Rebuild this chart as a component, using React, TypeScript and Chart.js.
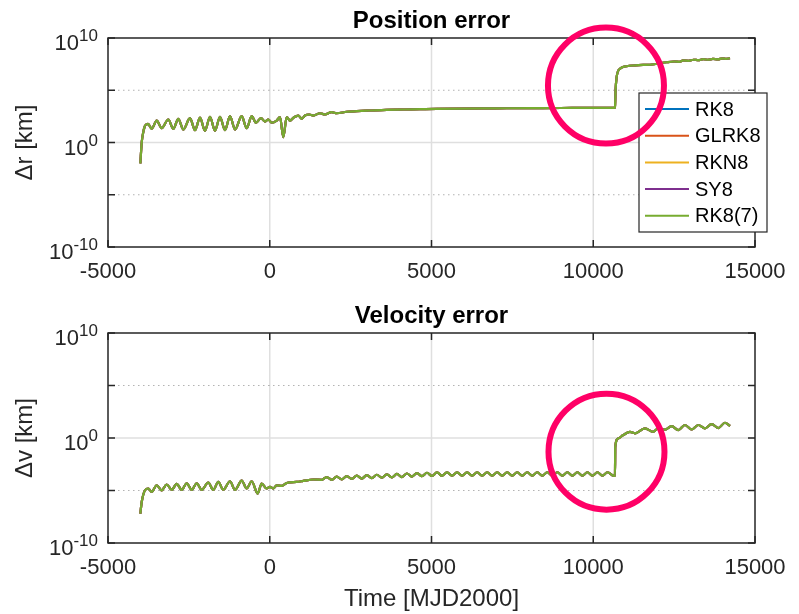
import React, { useEffect, useRef } from "react";
import { Chart, registerables } from "chart.js";

Chart.register(...registerables);

// ---------- data ----------
const SERIES_LABELS = ["RK8", "GLRK8", "RKN8", "SY8", "RK8(7)"];
const SERIES_COLORS = ["#0072BD", "#D95319", "#EDB120", "#7E2F8E", "#77AC30"];
const X_TICKS = [-5000, 0, 5000, 10000, 15000];
const Y_TICK_EXPONENTS = [-10, -5, 0, 5, 10];
const Y_LABEL_EXPONENTS = [-10, 0, 10];

// [time (MJD2000), log10 of error]
const POSITION_ERROR = [
  [-4000, -2.0], [-3958, 0.0], [-3909, 1.0], [-3856, 1.6], [-3764, 1.79], [-3649, 1.31],
  [-3495, 2.1], [-3340, 1.37], [-3136, 2.2], [-2982, 1.31], [-2827, 2.27], [-2672, 1.24],
  [-2465, 2.33], [-2311, 1.18], [-2156, 2.39], [-2002, 1.12], [-1847, 2.46], [-1693, 1.12],
  [-1538, 2.46], [-1384, 1.18], [-1229, 2.52], [-1074, 1.24], [-867, 2.52], [-713, 1.37],
  [-558, 2.52], [-425, 1.89], [-271, 2.33], [-147, 2.0], [-45, 2.2], [60, 1.89],
  [215, 2.1], [317, 2.42], [419, 0.51], [524, 2.42], [626, 2.1], [749, 2.42],
  [882, 2.58], [987, 2.27], [1089, 2.58], [1222, 2.68], [1346, 2.58], [1553, 2.8],
  [1707, 2.68], [1915, 2.9], [2069, 2.8], [2378, 2.94], [2687, 3.0], [3098, 3.06],
  [3615, 3.13], [4128, 3.16], [4644, 3.19], [5160, 3.22], [6000, 3.25], [7000, 3.27],
  [8000, 3.29], [9000, 3.3], [10000, 3.31], [10650, 3.32], [10671, 3.35], [10690, 5.0],
  [10723, 6.25], [10826, 7.05], [11033, 7.3], [11300, 7.38], [11550, 7.42], [11753, 7.44],
  [12000, 7.55], [12269, 7.68], [12500, 7.75], [12650, 7.72], [12783, 7.85], [12950, 7.82],
  [13100, 7.92], [13250, 7.88], [13400, 7.97], [13550, 7.92], [13700, 8.0], [13850, 7.95],
  [14000, 8.05], [14100, 8.0], [14227, 8.07],
];

const VELOCITY_ERROR = [
  [-4000, -7.2], [-3958, -6.1], [-3856, -4.98], [-3754, -4.81], [-3649, -5.14], [-3495, -4.5],
  [-3340, -4.98], [-3186, -4.43], [-3030, -4.94], [-2877, -4.37], [-2722, -4.94], [-2567, -4.31],
  [-2413, -4.94], [-2258, -4.31], [-2104, -4.94], [-1900, -4.24], [-1745, -4.94], [-1591, -4.18],
  [-1436, -4.94], [-1229, -4.12], [-1074, -4.94], [-867, -4.05], [-713, -4.81], [-558, -4.12],
  [-373, -5.29], [-249, -4.34], [-95, -4.81], [7, -4.65], [109, -4.81], [215, -4.5],
  [369, -4.56], [524, -4.28], [833, -4.18], [1037, -4.09], [1346, -3.95], [1605, -3.98],
  [1760, -3.72], [1915, -3.98], [2070, -3.68], [2225, -3.94], [2380, -3.63], [2535, -3.9],
  [2690, -3.58], [2845, -3.86], [3000, -3.54], [3155, -3.82], [3310, -3.5], [3465, -3.78],
  [3620, -3.46], [3775, -3.75], [3930, -3.42], [4085, -3.72], [4240, -3.38], [4395, -3.68],
  [4550, -3.34], [4705, -3.64], [4860, -3.31], [5015, -3.62], [5170, -3.28], [5325, -3.6],
  [5480, -3.27], [5635, -3.59], [5790, -3.27], [5945, -3.58], [6100, -3.27], [6255, -3.58],
  [6410, -3.26], [6565, -3.58], [6720, -3.26], [6875, -3.58], [7030, -3.26], [7185, -3.58],
  [7340, -3.26], [7495, -3.58], [7650, -3.26], [7805, -3.58], [7960, -3.26], [8115, -3.58],
  [8270, -3.26], [8425, -3.58], [8580, -3.26], [8735, -3.58], [8890, -3.26], [9045, -3.58],
  [9200, -3.26], [9355, -3.58], [9510, -3.26], [9665, -3.58], [9820, -3.26], [9975, -3.58],
  [10130, -3.26], [10285, -3.58], [10440, -3.26], [10620, -3.6], [10671, -3.62], [10680, -0.84],
  [10773, -0.04], [10928, 0.28], [11135, 0.59], [11289, 0.45], [11598, 0.92], [11855, 0.59],
  [12010, 0.92], [12217, 0.8], [12424, 1.14], [12628, 0.75], [12835, 1.24], [13042, 0.82],
  [13246, 1.24], [13453, 0.92], [13660, 1.33], [13865, 0.95], [14072, 1.45], [14227, 1.14],
];

// annotation circles, anchored in data coordinates [time, log10]
const POSITION_CIRCLE = [10393, 5.45];
const VELOCITY_CIRCLE = [10409, -1.3];

// ---------- styling ----------
const FONT = "'Liberation Sans', Arial, Helvetica, sans-serif";
const AXIS_COLOR = "#262626";
const CIRCLE_COLOR = "#FF0066";

type Cfg = {
  title: string;
  yTitle: string;
  xTitle: string | null;
  points: number[][];
  legend: boolean;
  circle: number[];
  height: number;
  padTop: number;
  xAxisHeight: number;
};

function makeDecorPlugin(cfg: Cfg) {
  return {
    id: "matlabDecor",
    beforeDatasetsDraw(chart: any) {
      const { ctx, chartArea: a, scales } = chart;
      const xs = scales.x;
      const ys = scales.y;
      ctx.save();
      ctx.strokeStyle = "rgba(38,38,38,0.15)";
      ctx.lineWidth = 1.5;
      ctx.beginPath();
      for (const t of X_TICKS) {
        const px = xs.getPixelForValue(t);
        if (px <= a.left + 1 || px >= a.right - 1) continue;
        ctx.moveTo(px, a.top);
        ctx.lineTo(px, a.bottom);
      }
      const p0 = ys.getPixelForValue(1);
      ctx.moveTo(a.left, p0);
      ctx.lineTo(a.right, p0);
      ctx.stroke();
      ctx.strokeStyle = "rgba(38,38,38,0.35)";
      ctx.lineWidth = 1.2;
      ctx.setLineDash([1.5, 3.5]);
      ctx.beginPath();
      for (const e of Y_TICK_EXPONENTS) {
        if (e === 0 || Math.abs(e) === 10) continue;
        const py = ys.getPixelForValue(Math.pow(10, e));
        ctx.moveTo(a.left, py);
        ctx.lineTo(a.right, py);
      }
      ctx.stroke();
      ctx.restore();
    },
    afterDatasetsDraw(chart: any) {
      const { ctx, chartArea: a, scales } = chart;
      const xs = scales.x;
      const ys = scales.y;
      ctx.save();
      ctx.strokeStyle = AXIS_COLOR;
      ctx.lineWidth = 1.5;
      ctx.strokeRect(a.left, a.top, a.right - a.left, a.bottom - a.top);
      const tl = 7;
      ctx.beginPath();
      for (const t of X_TICKS) {
        const px = xs.getPixelForValue(t);
        ctx.moveTo(px, a.bottom);
        ctx.lineTo(px, a.bottom - tl);
        ctx.moveTo(px, a.top);
        ctx.lineTo(px, a.top + tl);
      }
      for (const e of Y_TICK_EXPONENTS) {
        const py = ys.getPixelForValue(Math.pow(10, e));
        ctx.moveTo(a.left, py);
        ctx.lineTo(a.left + tl, py);
        ctx.moveTo(a.right, py);
        ctx.lineTo(a.right - tl, py);
      }
      ctx.stroke();

      ctx.fillStyle = AXIS_COLOR;
      ctx.textAlign = "left";
      ctx.textBaseline = "alphabetic";
      for (const e of Y_LABEL_EXPONENTS) {
        const py = ys.getPixelForValue(Math.pow(10, e));
        const expText = String(e);
        ctx.font = `22px ${FONT}`;
        const baseW = ctx.measureText("10").width;
        ctx.font = `17px ${FONT}`;
        const expW = ctx.measureText(expText).width;
        const right = a.left - 10;
        ctx.font = `22px ${FONT}`;
        ctx.fillText("10", right - expW - baseW, py + 12);
        ctx.font = `17px ${FONT}`;
        ctx.fillText(expText, right - expW, py + 3);
      }

      ctx.fillStyle = "#000";
      ctx.font = `bold 24px ${FONT}`;
      ctx.textAlign = "center";
      ctx.fillText(cfg.title, (a.left + a.right) / 2, a.top - 10.5);

      if (cfg.legend) {
        const bx = a.right - 116;
        const by = a.top + 55;
        const bw = 128;
        const bh = 139;
        ctx.fillStyle = "#fff";
        ctx.fillRect(bx, by, bw, bh);
        ctx.strokeStyle = AXIS_COLOR;
        ctx.lineWidth = 1.2;
        ctx.strokeRect(bx, by, bw, bh);
        ctx.font = `20px ${FONT}`;
        ctx.textAlign = "left";
        ctx.textBaseline = "middle";
        chart.data.datasets.forEach((ds: any, i: number) => {
          const ry = by + 16 + i * 26.7;
          ctx.strokeStyle = ds.borderColor;
          ctx.lineWidth = 2;
          ctx.beginPath();
          ctx.moveTo(bx + 6, ry);
          ctx.lineTo(bx + 50, ry);
          ctx.stroke();
          ctx.fillStyle = "#000";
          ctx.fillText(ds.label, bx + 56, ry + 1);
        });
      }

      const cx = xs.getPixelForValue(cfg.circle[0]);
      const cy = ys.getPixelForValue(Math.pow(10, cfg.circle[1]));
      ctx.strokeStyle = CIRCLE_COLOR;
      ctx.lineWidth = 6;
      ctx.beginPath();
      ctx.arc(cx, cy, 58, 0, Math.PI * 2);
      ctx.stroke();
      ctx.restore();
    },
  };
}

function ErrorChart({ cfg }: { cfg: Cfg }) {
  const ref = useRef<HTMLCanvasElement>(null);
  useEffect(() => {
    if (!ref.current) return;
    const datasets = SERIES_LABELS.map((label, i) => ({
      label,
      data: cfg.points.map(([t, lg]) => ({ x: t, y: Math.pow(10, lg) })),
      borderColor: SERIES_COLORS[i],
      backgroundColor: SERIES_COLORS[i],
      borderWidth: 2.2,
      pointRadius: 0,
      cubicInterpolationMode: "monotone" as const,
      order: SERIES_LABELS.length - 1 - i,
    }));
    const chart = new Chart(ref.current, {
      type: "line",
      data: { datasets },
      options: {
        responsive: false,
        animation: false,
        devicePixelRatio: 1,
        layout: { padding: { left: 0, right: 44, top: cfg.padTop, bottom: 0 } },
        plugins: {
          legend: { display: false },
          tooltip: { enabled: false },
          title: { display: false },
        },
        scales: {
          x: {
            type: "linear",
            min: -5000,
            max: 15000,
            afterBuildTicks: (s: any) => {
              s.ticks = X_TICKS.map((v) => ({ value: v }));
            },
            afterFit: (s: any) => {
              s.height = cfg.xAxisHeight;
            },
            grid: { display: false, drawTicks: false },
            border: { display: false },
            ticks: {
              autoSkip: false,
              maxRotation: 0,
              padding: 12,
              color: AXIS_COLOR,
              font: { family: FONT, size: 22 },
              callback: (v: any) => String(v),
            },
            title: cfg.xTitle
              ? {
                  display: true,
                  text: cfg.xTitle,
                  color: AXIS_COLOR,
                  font: { family: FONT, size: 24 },
                  padding: { top: 0, bottom: 0 },
                }
              : { display: false },
          },
          y: {
            type: "logarithmic",
            min: 1e-10,
            max: 1e10,
            afterBuildTicks: (s: any) => {
              s.ticks = Y_TICK_EXPONENTS.map((e) => ({ value: Math.pow(10, e) }));
            },
            afterFit: (s: any) => {
              s.width = 108;
            },
            grid: { display: false, drawTicks: false },
            border: { display: false },
            ticks: { display: false },
            title: {
              display: true,
              text: cfg.yTitle,
              color: AXIS_COLOR,
              font: { family: FONT, size: 24 },
              padding: { top: 10.6, bottom: 0 },
            },
          },
        },
      } as any,
      plugins: [makeDecorPlugin(cfg)],
    });
    return () => chart.destroy();
  }, []);
  return (
    <canvas
      ref={ref}
      width={799}
      height={cfg.height}
      style={{ display: "block", width: 799, height: cfg.height }}
    />
  );
}

const TOP_CFG: Cfg = {
  title: "Position error",
  yTitle: "Δr [km]",
  xTitle: null,
  points: POSITION_ERROR,
  legend: true,
  circle: POSITION_CIRCLE,
  height: 300,
  padTop: 38,
  xAxisHeight: 53,
};

const BOTTOM_CFG: Cfg = {
  title: "Velocity error",
  yTitle: "Δv [km]",
  xTitle: "Time [MJD2000]",
  points: VELOCITY_ERROR,
  legend: false,
  circle: VELOCITY_CIRCLE,
  height: 314,
  padTop: 33,
  xAxisHeight: 71,
};

export default function App() {
  return (
    <div
      style={{
        position: "absolute",
        left: 0,
        top: 0,
        width: 799,
        height: 614,
        background: "#fff",
        overflow: "hidden",
      }}
    >
      <ErrorChart cfg={TOP_CFG} />
      <ErrorChart cfg={BOTTOM_CFG} />
    </div>
  );
}
